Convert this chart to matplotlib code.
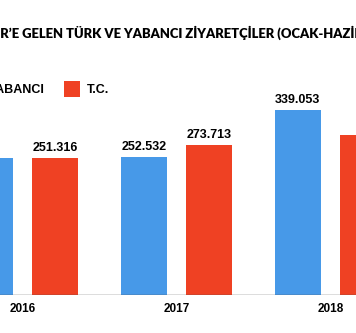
import numpy as np
import matplotlib
matplotlib.use("Agg")
import matplotlib.pyplot as plt

# --- DATA ---
years = ['2016', '2017', '2018']
yabanci = [250.406, 252.532, 339.053]
tc = [251.316, 273.713, 293.604]
yabanci_labels = ['250.406', '252.532', '339.053']
tc_labels = ['251.316', '273.713', '293.604']
series_names = ['YABANCI', 'T.C.']
title_text = 'İZMİR’E GELEN TÜRK VE YABANCI ZİYARETÇİLER (OCAK-HAZİRAN)'
hidden_prefix = 'İZMİ'  # part of the title cut off at the left edge

BLUE = '#4799E8'
RED = '#EF4123'
LABEL_FONT = 'Liberation Sans'
TITLE_FONT = 'Lato'

fig = plt.figure(figsize=(3.56, 3.33), dpi=100)
ax = fig.add_axes([0, 38 / 333, 1, 295 / 333])

x = np.arange(len(years))
w = 0.299
off = 0.211
b1 = ax.bar(x - off, yabanci, w, color=BLUE, label=series_names[0])
b2 = ax.bar(x + off, tc, w, color=RED, label=series_names[1])

ax.bar_label(b1, labels=yabanci_labels, padding=3, fontsize=9, fontweight='bold', family=LABEL_FONT)
ax.bar_label(b2, labels=tc_labels, padding=3, fontsize=9, fontweight='bold', family=LABEL_FONT)

ax.set_xlim(-0.146, 2.166)
ax.set_ylim(0, 540)
ax.axhline(0, color='#555555', lw=1)
for s in ax.spines.values():
    s.set_visible(False)
ax.set_yticks([])
ax.set_xticks(x)
ax.set_xticklabels(years, fontsize=8.5, fontweight='bold', family=LABEL_FONT)
ax.tick_params(axis='x', length=0, pad=6)

# legend (left part falls outside the crop)
fig.legend(handles=[b1, b2], loc='center left', bbox_to_anchor=(-34 / 356, 1 - 89 / 333),
           ncol=2, frameon=False, borderpad=0, borderaxespad=0,
           handlelength=1.23, handleheight=1.55, handletextpad=0.57, columnspacing=1.6,
           prop={'family': LABEL_FONT, 'weight': 'bold', 'size': 9})

# title, shifted so that the hidden prefix sits left of the figure
t = fig.text(0, 1 - 33 / 333, title_text, fontsize=9.4, fontweight='heavy', family=TITLE_FONT,
             va='center', ha='left')
r = fig.canvas.get_renderer()
pre = fig.text(0, 0, hidden_prefix, fontsize=9.4, fontweight='heavy', family=TITLE_FONT)
shift = pre.get_window_extent(r).width
pre.remove()
t.set_x(-shift / fig.bbox.width)

fig.savefig('out.png', dpi=100)
